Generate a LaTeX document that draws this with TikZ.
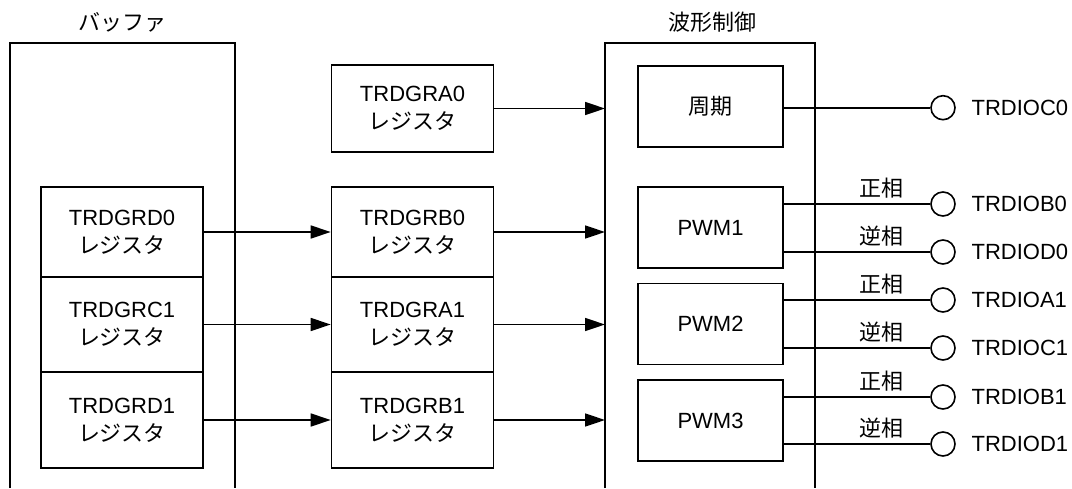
\documentclass[tikz,border=0pt]{standalone}
\usepackage{fontspec}
\setmainfont{Liberation Sans}
\newfontfamily\jp{Noto Sans CJK JP}
\usetikzlibrary{arrows.meta,positioning}
\newcommand{\regtext}[1]{#1\\{\jp レジスタ}}
\tikzset{
  regbox/.style={draw, minimum width=162pt, inner sep=0pt, align=center},
  wfbox/.style={draw, minimum width=145pt, minimum height=81pt, inner sep=0pt},
  port/.style={draw, circle, minimum size=24pt, inner sep=0pt},
  portname/.style={inner sep=0pt},
  phaselabel/.style={pos=0.67, above=2.5pt, inner sep=2pt},
  arr/.style={-{Triangle[length=20pt,width=13pt]}}
}
\begin{document}
\begin{tikzpicture}[x=1pt, y=-1pt, line width=1.6pt, font=\fontsize{22}{28}\selectfont]
\useasboundingbox (0,0) rectangle (1072,488);

  % Buffer
  \draw (10,488) -- (10,43) -- (235,43) -- (235,488);
  \node (buftitle) at (122,22) {\jp バッファ};
  \node[regbox, minimum height=90pt] (grd0) at (122,232) {\regtext{TRDGRD0}};
  \node[regbox, minimum height=95pt] (grc1) at (122,324.5) {\regtext{TRDGRC1}};
  \node[regbox, minimum height=96pt] (grd1) at (122,420) {\regtext{TRDGRD1}};

  % Registers
  \node[regbox, minimum height=87pt] (gra0) at (412.5,108.5) {\regtext{TRDGRA0}};
  \node[regbox, minimum height=90pt] (grb0) at (412.5,232) {\regtext{TRDGRB0}};
  \node[regbox, minimum height=95pt] (gra1) at (412.5,324.5) {\regtext{TRDGRA1}};
  \node[regbox, minimum height=96pt] (grb1) at (412.5,420) {\regtext{TRDGRB1}};

  % Waveform control
  \draw (605,488) -- (605,43) -- (815,43) -- (815,488);
  \coordinate (wfl) at (605,43);
  \node (wftitle) at (712,22) {\jp 波形制御};
  \node[wfbox] (cyc) at (710.5,106.5) {\jp 周期};
  \node[wfbox] (pwm1) at (710.5,227.5) {PWM1};
  \node[wfbox] (pwm2) at (710.5,324) {PWM2};
  \node[wfbox] (pwm3) at (710.5,420.5) {PWM3};

  % Arrows
  \draw[arr] (grd0.east) -- (grb0.west);
  \draw[arr] (grc1.east) -- (gra1.west);
  \draw[arr] (grd1.east) -- (grb1.west);
  \foreach \r in {gra0,grb0,gra1,grb1}
    \draw[arr] (\r.east) -- (\r.east -| wfl);

  % Outputs
  \node[port] (pc0) at (943,107.7) {};
  \node[portname, right=15pt of pc0] (lc0) {TRDIOC0};
  \draw (pc0 -| cyc.east) -- (pc0);
  \foreach \i/\ya/\yb/\la/\lb in {1/204/252/TRDIOB0/TRDIOD0, 2/300/348/TRDIOA1/TRDIOC1, 3/397/444/TRDIOB1/TRDIOD1} {
    \node[port] (pa\i) at (943,\ya) {};
    \node[port] (pb\i) at (943,\yb) {};
    \node[portname, right=15pt of pa\i] (la\i) {\la};
    \node[portname, right=15pt of pb\i] (lb\i) {\lb};
    \draw (pa\i -| pwm\i.east) -- node[phaselabel] {\jp 正相} (pa\i);
    \draw (pb\i -| pwm\i.east) -- node[phaselabel] {\jp 逆相} (pb\i);
  }
\end{tikzpicture}
\end{document}
